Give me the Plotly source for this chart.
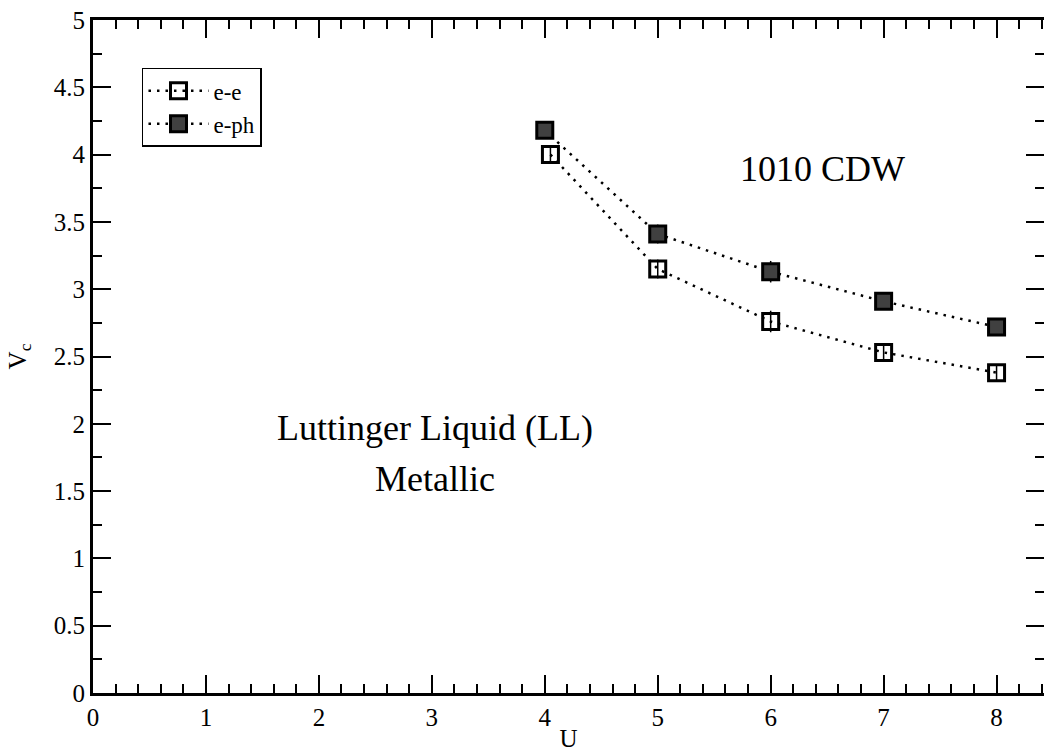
import plotly.graph_objects as go

# Critical coupling V_c versus U for the two interaction models
u_ee = [4.05, 5, 6, 7, 8]
vc_ee = [4.00, 3.15, 2.76, 2.53, 2.38]
err_ee = [0.07, 0.07, 0.08, 0.06, 0.06]

u_eph = [4, 5, 6, 7, 8]
vc_eph = [4.18, 3.41, 3.13, 2.91, 2.72]
err_eph = [0.06, 0.07, 0.08, 0.06, 0.06]

x_ticks = [0, 1, 2, 3, 4, 5, 6, 7, 8]
y_ticks = [0, 0.5, 1, 1.5, 2, 2.5, 3, 3.5, 4, 4.5, 5]
y_tick_text = ["0", "0.5", "1", "1.5", "2", "2.5", "3", "3.5", "4", "4.5", "5"]

FONT = "Liberation Serif"
DOTS = "2.5px,6px"

fig = go.Figure()

fig.add_trace(go.Scatter(
    x=u_ee, y=vc_ee, name="e-e", mode="lines+markers",
    line=dict(color="black", width=2.5, dash=DOTS),
    marker=dict(symbol="square", size=16, color="rgba(0,0,0,0)",
                line=dict(color="black", width=3)),
    error_y=dict(type="data", array=err_ee, color="black",
                 thickness=1.5, width=0),
))

fig.add_trace(go.Scatter(
    x=u_eph, y=vc_eph, name="e-ph", mode="lines+markers",
    line=dict(color="black", width=2.5, dash=DOTS),
    marker=dict(symbol="square", size=16, color="#404040",
                line=dict(color="black", width=3)),
    error_y=dict(type="data", array=err_eph, color="black",
                 thickness=1.5, width=0),
))

# phase labels
fig.add_annotation(x=6.46, y=3.89, text="1010 CDW", showarrow=False,
                   font=dict(family=FONT, size=36, color="black"))
fig.add_annotation(x=3.03, y=1.97, text="Luttinger Liquid (LL)",
                   showarrow=False,
                   font=dict(family=FONT, size=36, color="black"))
fig.add_annotation(x=3.03, y=1.59, text="Metallic", showarrow=False,
                   font=dict(family=FONT, size=36, color="black"))

fig.update_layout(
    width=1044, height=753,
    margin=dict(l=93, r=0, t=20, b=60),
    paper_bgcolor="white", plot_bgcolor="white",
    font=dict(family=FONT, size=25, color="black"),
    showlegend=True,
    legend=dict(x=0.0515, y=0.929, xanchor="left", yanchor="top",
                bgcolor="white", bordercolor="black", borderwidth=1.5,
                font=dict(family=FONT, size=23, color="black"),
                itemwidth=60, tracegroupgap=0),
    xaxis=dict(
        range=[0, 8.42], tickmode="array", tickvals=x_ticks,
        showgrid=False, zeroline=False,
        showline=True, linecolor="black", linewidth=3, mirror="ticks",
        ticks="inside", ticklen=18, tickwidth=2, tickcolor="black",
        minor=dict(dtick=0.2, ticks="inside", ticklen=9, tickwidth=2,
                   tickcolor="black", showgrid=False),
        title=dict(text="U", font=dict(family=FONT, size=25), standoff=0),
        tickfont=dict(family=FONT, size=25),
    ),
    yaxis=dict(
        range=[0, 5], tickmode="array", tickvals=y_ticks, ticktext=y_tick_text,
        showgrid=False, zeroline=False,
        showline=True, linecolor="black", linewidth=3,
        ticks="inside", ticklen=18, tickwidth=2, tickcolor="black",
        minor=dict(dtick=0.25, ticks="inside", ticklen=9, tickwidth=2,
                   tickcolor="black", showgrid=False),
        title=dict(text="V<sub>c</sub>", font=dict(family=FONT, size=25),
                   standoff=21),
        tickfont=dict(family=FONT, size=25),
    ),
    # right-hand tick marks without a visible spine
    yaxis2=dict(
        range=[0, 5], overlaying="y", side="right", anchor="free",
        position=1, tickmode="array", tickvals=y_ticks,
        showticklabels=False, showgrid=False, zeroline=False, showline=False,
        ticks="inside", ticklen=18, tickwidth=2, tickcolor="black",
        minor=dict(dtick=0.25, ticks="inside", ticklen=9, tickwidth=2,
                   tickcolor="black", showgrid=False),
    ),
)

# empty trace so the right-hand axis is rendered
fig.add_trace(go.Scatter(x=[None], y=[None], yaxis="y2", showlegend=False,
                         hoverinfo="skip"))

fig.write_html("out.html")
